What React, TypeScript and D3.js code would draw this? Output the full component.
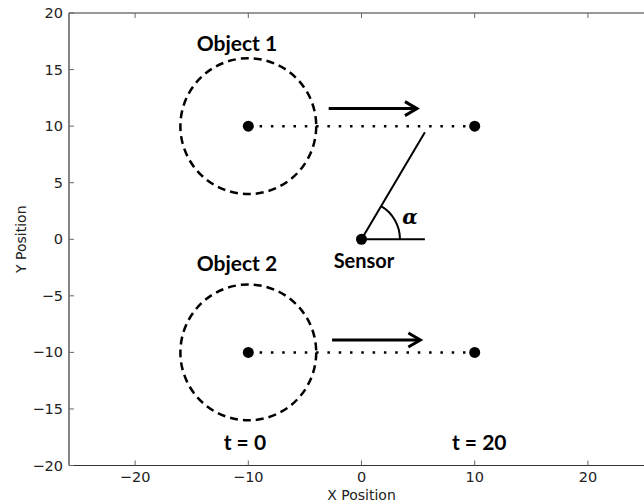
import React from "react";
import * as d3 from "d3";

const xTicks = [-20, -10, 0, 10, 20];
const yTicks = [-20, -15, -10, -5, 0, 5, 10, 15, 20];
const objectCenters = [
  { name: "Object 1", x: -10, y: 10, labelX: -11, labelY: 16.64 },
  { name: "Object 2", x: -10, y: -10, labelX: -11, labelY: -2.83 },
];
const objectRadius = 6;
const endPoints = [
  { x: 10, y: 10 },
  { x: 10, y: -10 },
];
const arrows = [
  { x1: -2.9, x2: 4.9, y: 11.55 },
  { x1: -2.6, x2: 5.2, y: -8.9 },
];
const sensor = { x: 0, y: 0 };
const sightEnd = { x: 5.6, y: 9.45 };
const baseEnd = { x: 5.6, y: 0 };
const arcRadius = 3.4;
const timeLabels = [
  { text: "t = 0", x: -10.3, y: -18.66 },
  { text: "t = 20", x: 10.4, y: -18.66 },
];

const W = 644;
const H = 504;

export default function App() {
  const x = d3.scaleLinear().domain([-25.84, 25.84]).range([69, 654]);
  const y = d3.scaleLinear().domain([-20, 20]).range([465.5, 13]);
  const k = x(1) - x(0);
  const labelFont = "Lato, 'Open Sans', sans-serif";
  const tickFont = "'DejaVu Sans', sans-serif";
  const angle = Math.atan2(sightEnd.y - sensor.y, sightEnd.x - sensor.x);
  const arcPath = d3.arc()({
    innerRadius: arcRadius * k,
    outerRadius: arcRadius * k,
    startAngle: Math.PI / 2 - angle,
    endAngle: Math.PI / 2,
  } as any);

  return (
    <svg
      width={W}
      height={H}
      style={{ position: "absolute", left: 0, top: 0, background: "#fff" }}
    >
      {/* spines */}
      <g stroke="#333" strokeWidth={1.2} fill="none">
        <line x1={x(-25.84)} x2={W} y1={y(20)} y2={y(20)} />
        <line x1={x(-25.84)} x2={W} y1={y(-20)} y2={y(-20)} />
        <line x1={x(-25.84)} x2={x(-25.84)} y1={y(20)} y2={y(-20)} />
      </g>
      {/* ticks */}
      <g stroke="#666" strokeWidth={1}>
        {xTicks.map((t) => (
          <g key={"xt" + t}>
            <line x1={x(t)} x2={x(t)} y1={y(-20)} y2={y(-20) - 5} />
            <line x1={x(t)} x2={x(t)} y1={y(20)} y2={y(20) + 5} />
          </g>
        ))}
        {yTicks.map((t) => (
          <line key={"yt" + t} x1={x(-25.84)} x2={x(-25.84) + 5} y1={y(t)} y2={y(t)} />
        ))}
      </g>
      <g fontFamily={tickFont} fontSize={14.5} fill="#222">
        {xTicks.map((t) => (
          <text key={"xl" + t} x={x(t)} y={y(-20) + 16.5} textAnchor="middle">
            {t < 0 ? "\u2212" + Math.abs(t) : String(t)}
          </text>
        ))}
        {yTicks.map((t) => (
          <text key={"yl" + t} x={x(-25.84) - 6} y={y(t) + 5} textAnchor="end">
            {t < 0 ? "\u2212" + Math.abs(t) : String(t)}
          </text>
        ))}
      </g>
      <text x={x(0)} y={500} textAnchor="middle" fontFamily={tickFont} fontSize={14} fill="#222">
        X Position
      </text>
      <text
        transform={`translate(26, ${y(0)}) rotate(-90)`}
        textAnchor="middle"
        fontFamily={tickFont}
        fontSize={14}
        fill="#222"
      >
        Y Position
      </text>

      {/* objects */}
      {objectCenters.map((o, i) => (
        <g key={o.name}>
          <circle
            cx={x(o.x)}
            cy={y(o.y)}
            r={objectRadius * k}
            fill="none"
            stroke="#000"
            strokeWidth={2.5}
            strokeDasharray="8 5"
          />
          <line
            x1={x(o.x)}
            x2={x(endPoints[i].x)}
            y1={y(o.y)}
            y2={y(endPoints[i].y)}
            stroke="#000"
            strokeWidth={2.5}
            strokeDasharray="2.5 8.8"
          />
          <circle cx={x(o.x)} cy={y(o.y)} r={5.5} fill="#000" />
          <circle cx={x(endPoints[i].x)} cy={y(endPoints[i].y)} r={5.5} fill="#000" />
          <text
            x={x(o.labelX)}
            y={y(o.labelY)}
            textAnchor="middle"
            fontFamily={labelFont}
            fontWeight="bold"
            fontSize={21}
            fill="#000"
          >
            {o.name}
          </text>
        </g>
      ))}

      {/* arrows */}
      {arrows.map((a, i) => (
        <g key={"ar" + i} stroke="#000" fill="none" strokeWidth={3}>
          <line x1={x(a.x1)} x2={x(a.x2) - 1} y1={y(a.y)} y2={y(a.y)} />
          <polyline
            points={`${x(a.x2) - 12},${y(a.y) - 7} ${x(a.x2)},${y(a.y)} ${x(a.x2) - 12},${y(a.y) + 7}`}
            strokeLinejoin="miter"
          />
        </g>
      ))}

      {/* sensor */}
      <line
        x1={x(sensor.x)}
        y1={y(sensor.y)}
        x2={x(sightEnd.x)}
        y2={y(sightEnd.y)}
        stroke="#000"
        strokeWidth={2}
      />
      <line
        x1={x(sensor.x)}
        y1={y(sensor.y)}
        x2={x(baseEnd.x)}
        y2={y(baseEnd.y)}
        stroke="#000"
        strokeWidth={2}
      />
      <path
        d={arcPath || ""}
        transform={`translate(${x(sensor.x)}, ${y(sensor.y)})`}
        fill="none"
        stroke="#000"
        strokeWidth={2}
      />
      <circle cx={x(sensor.x)} cy={y(sensor.y)} r={5.5} fill="#000" />
      <text
        x={x(sensor.x) + 48.5}
        y={y(sensor.y) - 15}
        textAnchor="middle"
        fontFamily="'DejaVu Serif', serif"
        fontStyle="italic"
        fontWeight="bold"
        fontSize={20}
        fill="#000"
      >
        α
      </text>
      <text
        x={x(sensor.x) + 2.5}
        y={y(sensor.y) + 29}
        textAnchor="middle"
        fontFamily={labelFont}
        fontWeight="bold"
        fontSize={20}
        fill="#000"
      >
        Sensor
      </text>

      {timeLabels.map((t) => (
        <text
          key={t.text}
          x={x(t.x)}
          y={y(t.y)}
          textAnchor="middle"
          fontFamily={labelFont}
          fontWeight="bold"
          fontSize={21}
          fill="#000"
        >
          {t.text}
        </text>
      ))}
    </svg>
  );
}
